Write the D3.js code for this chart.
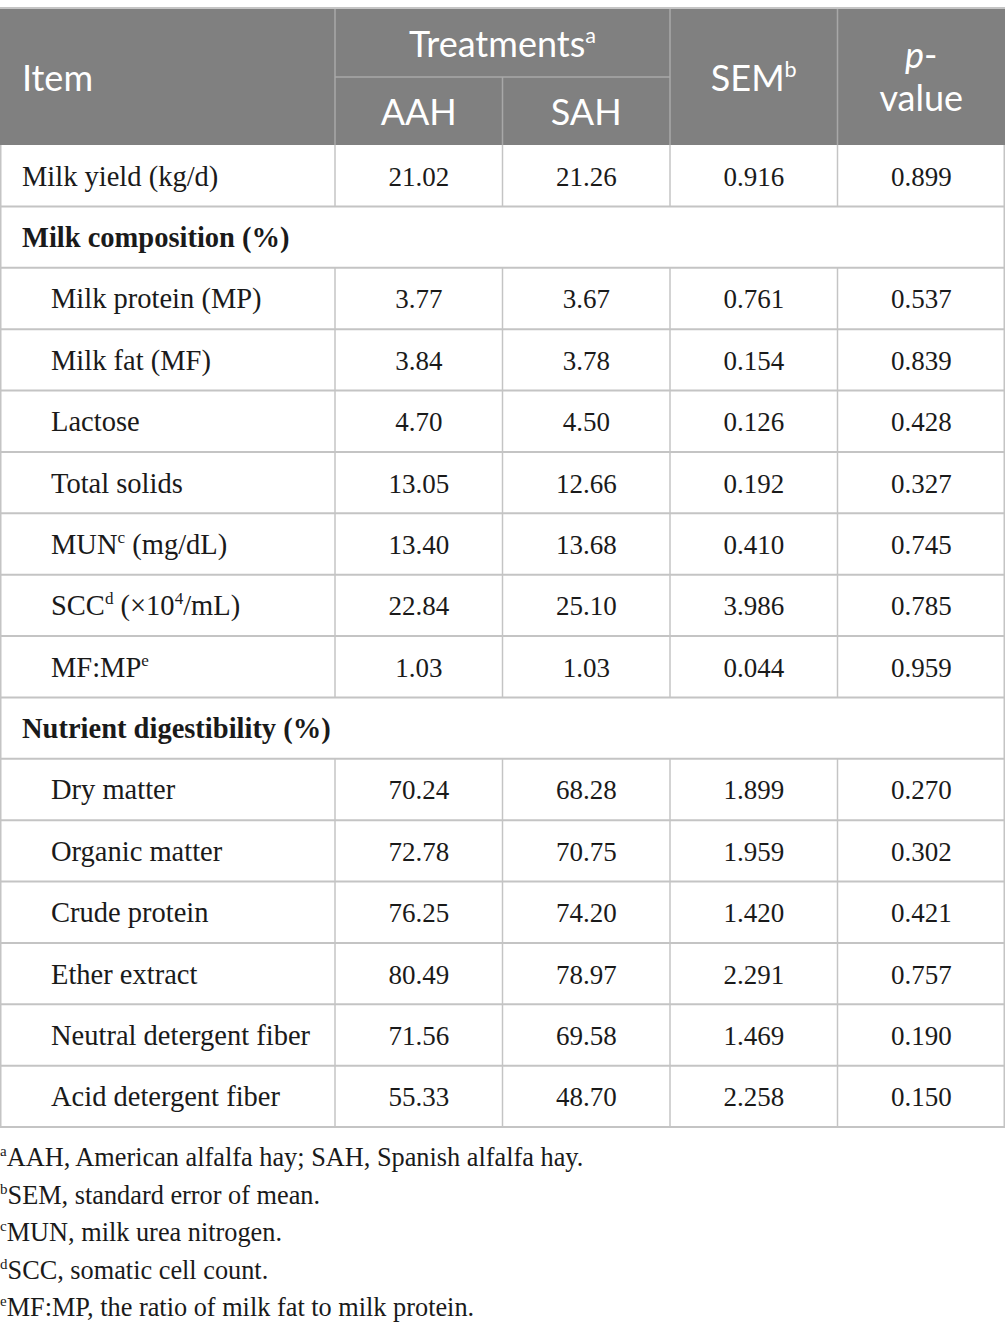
<!DOCTYPE html>
<html>
<head>
<meta charset="utf-8">
<script src="https://cdn.jsdelivr.net/npm/d3@7"></script>
<style>
  body { margin: 0; background: #fff; }
</style>
</head>
<body>
<div id="container"></div>
<script>
/* DATA */
const rowLabels = [
  "Milk yield (kg/d)", "Milk composition (%)", "Milk protein (MP)", "Milk fat (MF)",
  "Lactose", "Total solids", "MUN^{c} (mg/dL)", "SCC^{d} (×10^{4}/mL)", "MF:MP^{e}",
  "Nutrient digestibility (%)", "Dry matter", "Organic matter", "Crude protein",
  "Ether extract", "Neutral detergent fiber", "Acid detergent fiber"
];
// top = plain row, section = bold heading row, sub = indented row
const rowTypes = ["top", "section", "sub", "sub", "sub", "sub", "sub", "sub", "sub",
  "section", "sub", "sub", "sub", "sub", "sub", "sub"];
const aahValues = [21.02, null, 3.77, 3.84, 4.70, 13.05, 13.40, 22.84, 1.03, null,
  70.24, 72.78, 76.25, 80.49, 71.56, 55.33];
const sahValues = [21.26, null, 3.67, 3.78, 4.50, 12.66, 13.68, 25.10, 1.03, null,
  68.28, 70.75, 74.20, 78.97, 69.58, 48.70];
const semValues = [0.916, null, 0.761, 0.154, 0.126, 0.192, 0.410, 3.986, 0.044, null,
  1.899, 1.959, 1.420, 2.291, 1.469, 2.258];
const pValues = [0.899, null, 0.537, 0.839, 0.428, 0.327, 0.745, 0.785, 0.959, null,
  0.270, 0.302, 0.421, 0.757, 0.190, 0.150];
const valueColumns = ["AAH", "SAH", "SEM", "p"];
const footnoteKeys = ["a", "b", "c", "d", "e"];
const footnoteTexts = [
  "AAH, American alfalfa hay; SAH, Spanish alfalfa hay.",
  "SEM, standard error of mean.",
  "MUN, milk urea nitrogen.",
  "SCC, somatic cell count.",
  "MF:MP, the ratio of milk fat to milk protein."
];

/* CONSTANTS */
const width = 1005;
const height = 1334;
const headTop = 8;
const headMid = 77;
const headBottom = 145;
const tableBottom = 1127;
const serif = "'Liberation Serif', 'Times New Roman', serif";
const sans = "Lato, 'Open Sans', sans-serif";
const lineColor = "#c4c4c4";
const headLine = "#a8a8a8";
const headFill = "#808080";

/* SCALES */
const xScale = d3.scaleBand()
  .domain(valueColumns)
  .range([335, width]);

const yScale = d3.scaleBand()
  .domain(d3.range(rowLabels.length))
  .range([headBottom, tableBottom]);

const fmt2 = d3.format(".2f");
const fmt3 = d3.format(".3f");

const cells = rowLabels.map((label, i) => ({
  i, label, type: rowTypes[i],
  vals: rowTypes[i] === "section" ? [] : [
    { col: "AAH", text: fmt2(aahValues[i]) },
    { col: "SAH", text: fmt2(sahValues[i]) },
    { col: "SEM", text: fmt3(semValues[i]) },
    { col: "p", text: fmt3(pValues[i]) }
  ]
}));

// writes "abc^{x}def" as tspans with superscripts
function richText(sel, str, size) {
  const parts = str.split(/\^\{([^}]*)\}/);
  const shift = size * 0.38;
  let raised = false;
  parts.forEach((p, k) => {
    if (p === "") return;
    const sup = k % 2 === 1;
    const t = sel.append("tspan").text(p);
    if (sup) {
      t.attr("font-size", size * 0.6).attr("dy", raised ? 0 : -shift);
      raised = true;
    } else if (raised) {
      t.attr("dy", shift);
      raised = false;
    }
  });
}

/* SVG */
const svg = d3.select("#container")
  .append("svg")
  .attr("width", width)
  .attr("height", height);

// header background
svg.append("rect")
  .attr("x", 0).attr("y", headTop)
  .attr("width", width).attr("height", headBottom - headTop)
  .attr("fill", headFill);

// header lines
const headLines = [
  [xScale("AAH"), headTop, xScale("AAH"), headBottom],
  [xScale("SAH"), headMid, xScale("SAH"), headBottom],
  [xScale("SEM"), headTop, xScale("SEM"), headBottom],
  [xScale("p"), headTop, xScale("p"), headBottom],
  [xScale("AAH"), headMid, xScale("SEM"), headMid]
];
svg.selectAll(".head-line")
  .data(headLines)
  .join("line")
  .attr("class", "head-line")
  .attr("x1", d => d[0]).attr("y1", d => d[1])
  .attr("x2", d => d[2]).attr("y2", d => d[3])
  .attr("stroke", headLine)
  .attr("stroke-width", 1.5);

svg.append("line")
  .attr("x1", 0).attr("x2", width)
  .attr("y1", headTop).attr("y2", headTop)
  .attr("stroke", lineColor).attr("stroke-width", 2);

// header text
const headText = svg.append("g")
  .attr("fill", "#fff")
  .attr("font-family", sans)
  .attr("font-size", 36);

headText.append("text").attr("x", 22).attr("y", 91).text("Item");

const treat = headText.append("text")
  .attr("x", xScale("SAH")).attr("y", 57)
  .attr("text-anchor", "middle");
richText(treat, "Treatments^{a}", 36);

["AAH", "SAH"].forEach(c => {
  headText.append("text")
    .attr("x", xScale(c) + xScale.bandwidth() / 2).attr("y", 125)
    .attr("text-anchor", "middle")
    .text(c);
});

const sem = headText.append("text")
  .attr("x", xScale("SEM") + xScale.bandwidth() / 2).attr("y", 91)
  .attr("text-anchor", "middle");
richText(sem, "SEM^{b}", 36);

headText.append("text")
  .attr("x", xScale("p") + xScale.bandwidth() / 2).attr("y", 68)
  .attr("text-anchor", "middle")
  .call(t => {
    t.append("tspan").attr("font-style", "italic").text("p");
    t.append("tspan").text("-");
  });
headText.append("text")
  .attr("x", xScale("p") + xScale.bandwidth() / 2).attr("y", 111)
  .attr("text-anchor", "middle")
  .text("value");

// body rows
const rows = svg.selectAll(".row")
  .data(cells)
  .join("g")
  .attr("class", "row")
  .attr("transform", d => `translate(0, ${yScale(d.i)})`);

rows.append("line")
  .attr("x1", 0).attr("x2", width)
  .attr("y1", yScale.bandwidth()).attr("y2", yScale.bandwidth())
  .attr("stroke", lineColor).attr("stroke-width", 2);

rows.selectAll(".vline")
  .data(d => d.type === "section" ? [] : valueColumns)
  .join("line")
  .attr("class", "vline")
  .attr("x1", c => xScale(c)).attr("x2", c => xScale(c))
  .attr("y1", 0).attr("y2", yScale.bandwidth())
  .attr("stroke", lineColor).attr("stroke-width", 1.5);

rows.append("text")
  .attr("x", d => d.type === "sub" ? 51 : 22)
  .attr("y", yScale.bandwidth() / 2 + 10)
  .attr("font-family", serif)
  .attr("font-size", 28.5)
  .attr("font-weight", d => d.type === "section" ? "bold" : "normal")
  .attr("fill", "#1a1a1a")
  .each(function (d) { richText(d3.select(this), d.label, 28.5); });

rows.selectAll(".val")
  .data(d => d.vals)
  .join("text")
  .attr("class", "val")
  .attr("x", v => xScale(v.col) + xScale.bandwidth() / 2)
  .attr("y", yScale.bandwidth() / 2 + 10)
  .attr("text-anchor", "middle")
  .attr("font-family", serif)
  .attr("font-size", 27)
  .attr("fill", "#1a1a1a")
  .text(v => v.text);

// outer borders
[0.75, width - 0.75].forEach(x => {
  svg.append("line")
    .attr("x1", x).attr("x2", x)
    .attr("y1", headBottom).attr("y2", tableBottom)
    .attr("stroke", lineColor).attr("stroke-width", 1.5);
});

// footnotes
svg.selectAll(".foot")
  .data(footnoteTexts)
  .join("text")
  .attr("class", "foot")
  .attr("x", 0)
  .attr("y", (d, i) => 1166 + i * 37.5)
  .attr("font-family", serif)
  .attr("font-size", 26.3)
  .attr("fill", "#1a1a1a")
  .each(function (d, i) {
    const t = d3.select(this);
    t.append("tspan").attr("font-size", 15).attr("dy", -10).text(footnoteKeys[i]);
    t.append("tspan").attr("dy", 10).text(d);
  });
</script>
</body>
</html>
